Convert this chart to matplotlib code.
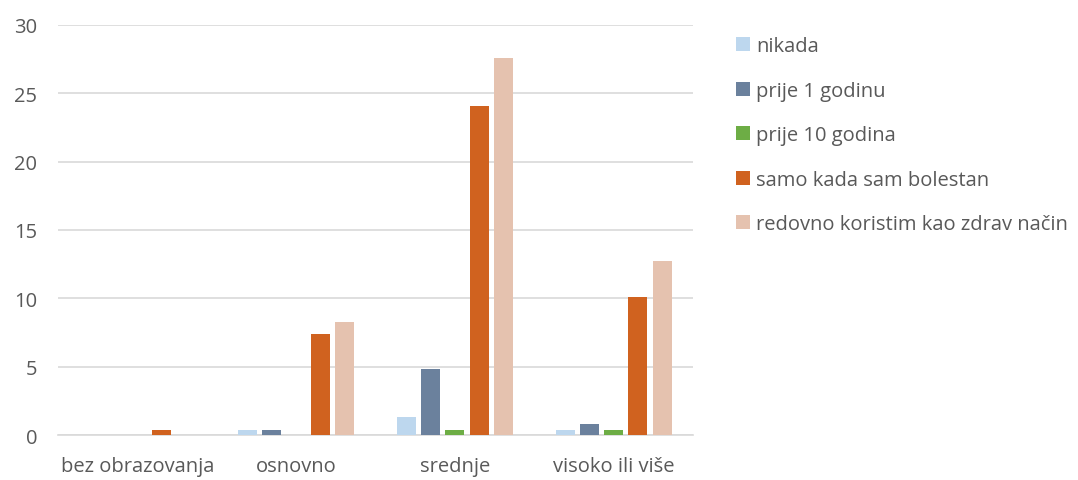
import matplotlib.pyplot as plt
import numpy as np

categories = ["bez obrazovanja", "osnovno", "srednje", "visoko ili više"]
series_names = ["nikada", "prije 1 godinu", "prije 10 godina",
                "samo kada sam bolestan", "redovno koristim kao zdrav način"]
nikada = [0, 0.4, 1.3, 0.4]
prije_1_godinu = [0, 0.4, 4.8, 0.8]
prije_10_godina = [0, 0, 0.4, 0.4]
samo_kada_bolestan = [0.4, 7.4, 24.1, 10.1]
redovno_zdrav = [0, 8.3, 27.6, 12.7]
yticks = [0, 5, 10, 15, 20, 25, 30]

values = [nikada, prije_1_godinu, prije_10_godina, samo_kada_bolestan, redovno_zdrav]
colors = ["#BDD7EE", "#6B819D", "#6DAD45", "#D0621F", "#E5C2AF"]

plt.rcParams['font.family'] = ['Open Sans', 'DejaVu Sans']
text_color = "#595959"
fs = 14.5

fig = plt.figure(figsize=(10.78, 4.81), dpi=100)
ax = fig.add_axes([58 / 1078, 1 - 436 / 481, (693 - 58) / 1078, (436 - 26) / 481])

x = np.arange(len(categories))
step = 0.153
width = 0.12
for i, (vals, col, name) in enumerate(zip(values, colors, series_names)):
    ax.bar(x + (i - 2) * step, vals, width=width, color=col, label=name, zorder=3)

ax.set_xlim(-0.5, len(categories) - 0.5)
ax.set_ylim(0, 30)
ax.set_yticks(yticks)
ax.set_xticks(x)
ax.set_xticklabels(categories)
ax.yaxis.grid(True, color="#D9D9D9", linewidth=1.2, zorder=0)
for side in ["left", "right", "top"]:
    ax.spines[side].set_visible(False)
ax.spines["bottom"].set_color("#D9D9D9")
ax.spines["bottom"].set_linewidth(1.2)
ax.tick_params(axis="both", length=0, labelsize=fs, colors=text_color)
ax.tick_params(axis="y", pad=15)
ax.tick_params(axis="x", pad=15)

leg = fig.legend(loc="upper left", bbox_to_anchor=(718 / 1078, 1 - 19 / 481),
                 frameon=False, handlelength=0.7, handleheight=0.7,
                 handletextpad=0.3, labelspacing=1.22, fontsize=fs)
for t in leg.get_texts():
    t.set_color(text_color)

fig.savefig("out.png", dpi=100)
